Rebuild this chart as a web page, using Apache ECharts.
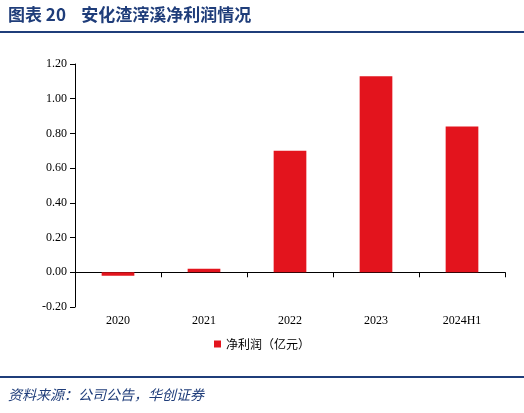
<!DOCTYPE html>
<html><head><meta charset="utf-8">
<script src="https://cdn.jsdelivr.net/npm/echarts@6/dist/echarts.min.js"></script>
<style>body{margin:0}#c{width:524px;height:413px}</style></head>
<body><div id="c"></div>
<script>
const categories = ['2020','2021','2022','2023','2024H1'];
const netProfit = [-0.02, 0.02, 0.70, 1.13, 0.84];
const chart = echarts.init(document.getElementById('c'));
chart.setOption({
  animation:false,
  graphic:[
    {type:'text',left:8,top:6,style:{text:'图表 20    安化渣滓溪净利润情况',fill:'#1f3d7a',font:'bold 17px "Noto Sans CJK SC", serif'}},
    {type:'rect',shape:{x:0,y:31,width:524,height:2},style:{fill:'#1f3d7a'}},
    {type:'rect',shape:{x:0,y:376,width:524,height:2},style:{fill:'#1f3d7a'}},
    {type:'text',left:8,top:388,style:{text:'资料来源：公司公告，华创证券',fill:'#1f3d7a',font:'italic 14px "Noto Sans CJK SC", serif'}}
  ],
  legend:{top:333,left:'center',itemWidth:7,itemHeight:7,icon:'rect',textStyle:{fontSize:12,color:'#000',fontFamily:'"Noto Sans CJK SC"'},data:['净利润（亿元）']},
  grid:{left:75,right:19,top:64,bottom:106},
  xAxis:{type:'category',data:categories,axisLine:{onZero:true,onZeroAxisIndex:0,lineStyle:{color:'#000'}},axisTick:{show:true,lineStyle:{color:'#000'}},
    axisLabel:{color:'#000',fontSize:12,fontFamily:'"Liberation Serif", serif'}},
  yAxis:{type:'value',min:-0.2,max:1.2,interval:0.2,splitLine:{show:false},
    axisLine:{show:true,lineStyle:{color:'#000'}},axisTick:{show:true,lineStyle:{color:'#000'}},
    axisLabel:{color:'#000',fontSize:12,fontFamily:'"Liberation Serif", serif',formatter:v=>v.toFixed(2)}},
  series:[{name:'净利润（亿元）',type:'bar',data:netProfit,barWidth:'38%',itemStyle:{color:'#e3141d'}}]
});
</script></body></html>
